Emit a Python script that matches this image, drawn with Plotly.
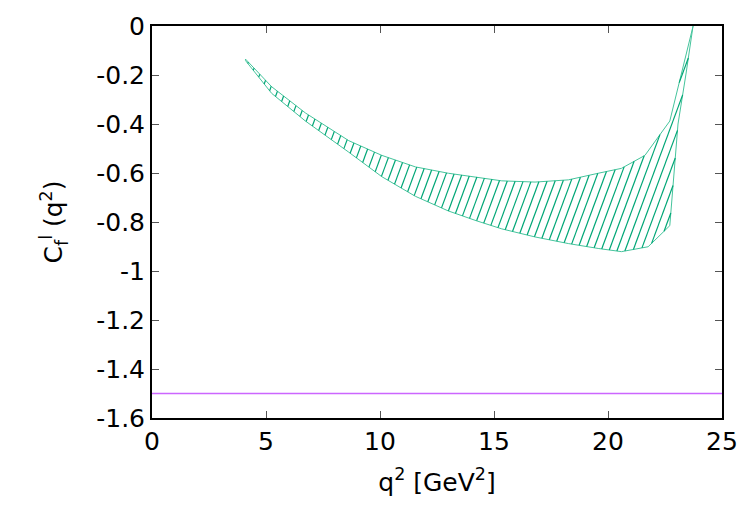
import numpy as np
import plotly.graph_objects as go

# ---- data ----
q2_upper = [4.10, 5.25, 6.73, 8.63, 10.08, 11.55, 13.00, 14.17, 15.34, 16.80,
            18.26, 19.57, 20.59, 21.62, 22.71, 23.73]
c_upper = [-0.135, -0.248, -0.355, -0.468, -0.528, -0.575, -0.601, -0.615, -0.632, -0.637,
           -0.628, -0.601, -0.581, -0.528, -0.388, -0.001]

q2_lower = [4.10, 5.25, 6.73, 8.63, 10.08, 11.55, 13.00, 14.23, 15.34, 16.80,
            18.26, 19.57, 20.59, 21.76, 22.71, 23.07, 23.42, 23.73]
c_lower = [-0.141, -0.275, -0.388, -0.515, -0.615, -0.695, -0.755, -0.795, -0.828, -0.861,
           -0.888, -0.908, -0.921, -0.901, -0.815, -0.40, -0.196, 0.0]

ref_level = -1.5
x_range = [0, 25]
y_range = [-1.6, 0]
x_ticks = [0, 5, 10, 15, 20, 25]
y_ticks = [0, -0.2, -0.4, -0.6, -0.8, -1, -1.2, -1.4, -1.6]
y_ticklabels = ["0", "-0.2", "-0.4", "-0.6", "-0.8", "-1", "-1.2", "-1.4", "-1.6"]

# ---- layout geometry (pixels) ----
W, H = 750, 525
ML, MR, MT, MB = 152, 26, 18, 107
pw = W - ML - MR
ph = H - MT - MB
px_per_x = pw / (x_range[1] - x_range[0])
px_per_y = ph / (y_range[1] - y_range[0])

green = "#00a676"
violet = "#cc66ff"

fig = go.Figure()

# band outline polygon
band_x = list(q2_upper) + list(q2_lower[::-1])
band_y = list(c_upper) + list(c_lower[::-1])
fig.add_trace(go.Scatter(x=band_x + [band_x[0]], y=band_y + [band_y[0]], mode="lines",
                         line=dict(color="#45c49c", width=1), hoverinfo="skip",
                         showlegend=False))

# hatch: parallel lines at a fixed screen angle, clipped to the band polygon
theta = np.deg2rad(70)
s, c = np.sin(theta), np.cos(theta)
PX = np.array(band_x) * px_per_x
PY = np.array(band_y) * px_per_y
n = len(PX)
F = PX * s - PY * c
spacing = 8.0 * s
hx, hy = [], []
d = F.min() + spacing * 0.5
while d < F.max():
    pts = []
    for i in range(n):
        j = (i + 1) % n
        fi, fj = F[i] - d, F[j] - d
        if (fi < 0) != (fj < 0):
            t = fi / (fi - fj)
            pts.append((PX[i] + t * (PX[j] - PX[i]), PY[i] + t * (PY[j] - PY[i])))
    pts.sort(key=lambda p: p[1])
    for k in range(0, len(pts) - 1, 2):
        (xa, ya), (xb, yb) = pts[k], pts[k + 1]
        hx += [xa / px_per_x, xb / px_per_x, None]
        hy += [ya / px_per_y, yb / px_per_y, None]
    d += spacing
fig.add_trace(go.Scatter(x=hx, y=hy, mode="lines", line=dict(color=green, width=1.2),
                         hoverinfo="skip", showlegend=False))

# reference horizontal line
fig.add_trace(go.Scatter(x=x_range, y=[ref_level, ref_level], mode="lines",
                         line=dict(color=violet, width=1.5), hoverinfo="skip",
                         showlegend=False))

font = dict(family="DejaVu Sans, Liberation Sans, sans-serif", size=25, color="black")
axis_common = dict(showgrid=False, zeroline=False, showline=True, linecolor="black",
                   linewidth=2, mirror="ticks", ticks="inside", ticklen=7,
                   tickcolor="#555555", tickwidth=1, tickfont=font)

fig.update_layout(
    width=W, height=H,
    margin=dict(l=ML, r=MR, t=MT, b=MB),
    plot_bgcolor="white", paper_bgcolor="white",
    showlegend=False,
    xaxis=dict(range=x_range, tickvals=x_ticks, **axis_common),
    yaxis=dict(range=y_range, tickvals=y_ticks, ticktext=y_ticklabels, **axis_common),
)
fig.update_xaxes(title=dict(text="q<sup>2</sup> [GeV<sup>2</sup>]", font=font, standoff=18))
fig.update_yaxes(title=dict(text="C<sub>f</sub><sup>l</sup> (q<sup>2</sup>)", font=font, standoff=26))

fig.write_html("out.html")
